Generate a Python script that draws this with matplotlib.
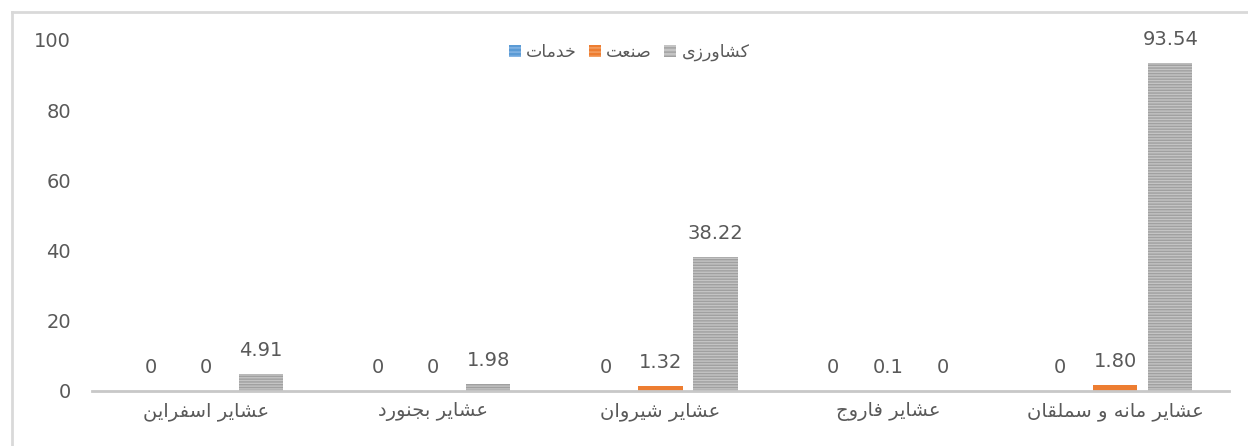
import numpy as np
import matplotlib.pyplot as plt
from matplotlib.lines import Line2D
from matplotlib.patches import Patch

# categories, right to left in the original (drawn left to right here)
categories = ['عشایر اسفراین', 'عشایر بجنورد', 'عشایر شیروان', 'عشایر فاروج', 'عشایر مانه و سملقان']
series_names = ['خدمات', 'صنعت', 'کشاورزی']
khadamat = [0, 0, 0, 0, 0]
sanat = [0, 0, 1.32, 0.1, 1.80]
keshavarzi = [4.91, 1.98, 38.22, 0, 93.54]
khadamat_labels = ['0', '0', '0', '0', '0']
sanat_labels = ['0', '0', '1.32', '0.1', '1.80']
keshavarzi_labels = ['4.91', '1.98', '38.22', '0', '93.54']
yticks = [0, 20, 40, 60, 80, 100]

# --- minimal arabic shaping (matplotlib has no shaping engine) ---
FORMS = {
    'ا': ('\uFE8D', '\uFE8E', None, None),
    'ب': ('\uFE8F', '\uFE90', '\uFE91', '\uFE92'),
    'ت': ('\uFE95', '\uFE96', '\uFE97', '\uFE98'),
    'ج': ('\uFE9D', '\uFE9E', '\uFE9F', '\uFEA0'),
    'خ': ('\uFEA5', '\uFEA6', '\uFEA7', '\uFEA8'),
    'د': ('\uFEA9', '\uFEAA', None, None),
    'ر': ('\uFEAD', '\uFEAE', None, None),
    'ز': ('\uFEAF', '\uFEB0', None, None),
    'س': ('\uFEB1', '\uFEB2', '\uFEB3', '\uFEB4'),
    'ش': ('\uFEB5', '\uFEB6', '\uFEB7', '\uFEB8'),
    'ص': ('\uFEB9', '\uFEBA', '\uFEBB', '\uFEBC'),
    'ع': ('\uFEC9', '\uFECA', '\uFECB', '\uFECC'),
    'ف': ('\uFED1', '\uFED2', '\uFED3', '\uFED4'),
    'ق': ('\uFED5', '\uFED6', '\uFED7', '\uFED8'),
    'ل': ('\uFEDD', '\uFEDE', '\uFEDF', '\uFEE0'),
    'م': ('\uFEE1', '\uFEE2', '\uFEE3', '\uFEE4'),
    'ن': ('\uFEE5', '\uFEE6', '\uFEE7', '\uFEE8'),
    'ه': ('\uFEE9', '\uFEEA', '\uFEEB', '\uFEEC'),
    'و': ('\uFEED', '\uFEEE', None, None),
    'ی': ('\uFBFC', '\uFBFD', '\uFBFE', '\uFBFF'),
    'ک': ('\uFB8E', '\uFB8F', '\uFB90', '\uFB91'),
}


def shape(text):
    out = []
    for i, ch in enumerate(text):
        if ch not in FORMS:
            out.append(ch)
            continue
        prev = text[i - 1] if i > 0 else ''
        nxt = text[i + 1] if i + 1 < len(text) else ''
        join_prev = prev in FORMS and FORMS[prev][2] is not None
        join_next = nxt in FORMS and FORMS[ch][2] is not None
        iso, fin, ini, med = FORMS[ch]
        if join_prev and join_next:
            out.append(med)
        elif join_prev:
            out.append(fin)
        elif join_next:
            out.append(ini)
        else:
            out.append(iso)
    return ''.join(out)[::-1]


plt.rcParams['font.family'] = ['DejaVu Sans']
plt.rcParams['hatch.linewidth'] = 1.0

fig = plt.figure(figsize=(12.48, 4.46), dpi=100)
ax = fig.add_axes([92 / 1248, (446 - 391) / 446, (1229 - 92) / 1248, (391 - 40) / 446])

x = np.arange(len(categories))
w = 0.194
step = 0.242
text_c = '#595959'
colors = ['#5B9BD5', '#ED7D31', '#A5A5A5']
series = [khadamat, sanat, keshavarzi]
labels = [khadamat_labels, sanat_labels, keshavarzi_labels]

for k in range(3):
    pos = x + (k - 1) * step
    ax.bar(pos, series[k], width=w, color='#c4c4c4' if k == 2 else colors[k],
           edgecolor='#a0a0a0' if k == 2 else colors[k], hatch='------' if k == 2 else None,
           linewidth=0)
    for p, v, s in zip(pos, series[k], labels[k]):
        ax.text(p, v + 4.0, s, ha='center', va='bottom', fontsize=14, color=text_c)

ax.set_xlim(-0.5, 4.5)
ax.set_ylim(0, 100)
ax.set_yticks(yticks)
ax.set_xticks(x)
ax.set_xticklabels([shape(c) for c in categories], fontsize=14, color=text_c)
ax.tick_params(axis='y', length=0, labelsize=14, labelcolor=text_c, pad=15)
ax.tick_params(axis='x', length=0, pad=8)
for s in ['top', 'right', 'left']:
    ax.spines[s].set_visible(False)
ax.spines['bottom'].set_color('#c8c8c8')
ax.spines['bottom'].set_linewidth(2)
ax.set_axisbelow(True)

# legend, left to right as drawn in the original
handles = [Patch(facecolor=colors[0], edgecolor='#8ab8e6', hatch='----', linewidth=0),
           Patch(facecolor=colors[1], edgecolor='#f4a46a', hatch='----', linewidth=0),
           Patch(facecolor='#c4c4c4', edgecolor='#a0a0a0', hatch='----', linewidth=0)]
leg_labels = [shape(n) for n in series_names]
fig.legend(handles, leg_labels, loc='center', bbox_to_anchor=(629 / 1248, 1 - 52 / 446),
           ncol=3, frameon=False, fontsize=12.5, labelcolor=text_c, handlelength=0.7,
           handleheight=0.7, columnspacing=0.7, handletextpad=0.3)

# outer chart border
fig.add_artist(Line2D([12 / 1248, 12 / 1248], [0, 1 - 12 / 446], transform=fig.transFigure,
                      color='#d9d9d9', lw=2))
fig.add_artist(Line2D([12 / 1248, 1], [1 - 12 / 446, 1 - 12 / 446], transform=fig.transFigure,
                      color='#d9d9d9', lw=2))

fig.savefig('out.png', dpi=100)
